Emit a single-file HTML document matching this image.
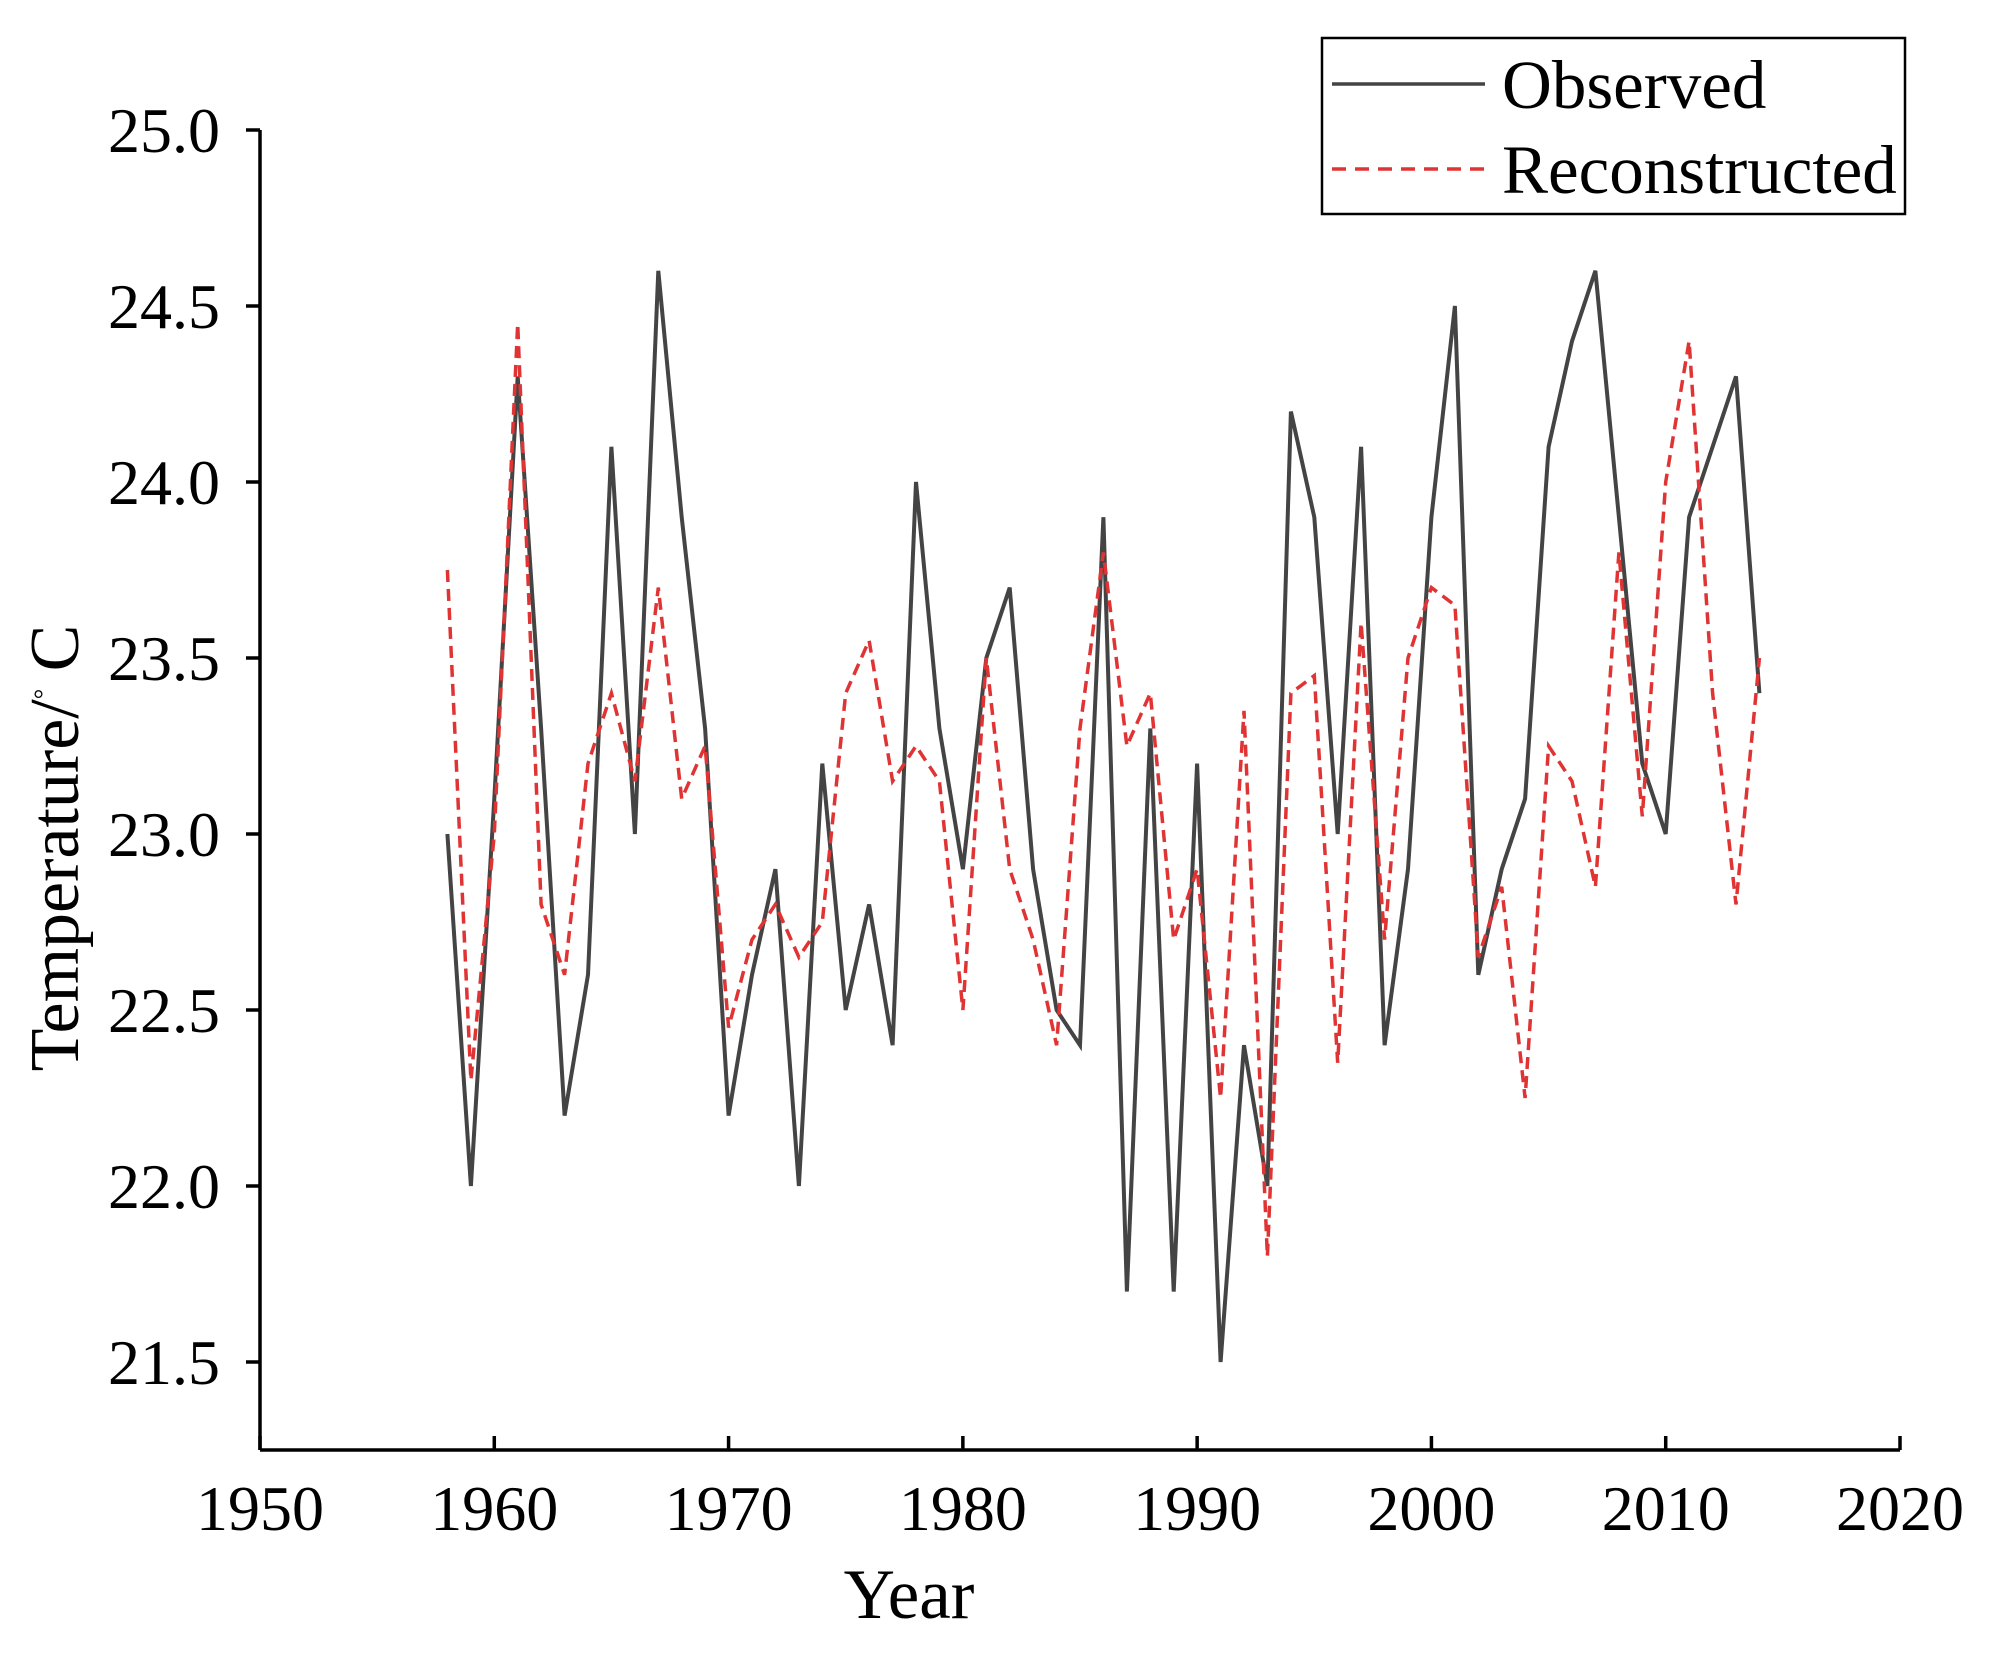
<!DOCTYPE html>
<html><head><meta charset="utf-8"><style>
html,body{margin:0;padding:0;background:#fff;}
svg{display:block;font-family:"Liberation Serif",serif;}
</style></head><body>
<svg id="chart" width="1999" height="1659" viewBox="0 0 1999 1659">
<g id="axes"></g>
<g id="series"></g>
<text x="909" y="1618" font-size="71" text-anchor="middle">Year</text>
<text transform="translate(78,848) rotate(-90)" font-size="70" text-anchor="middle">Temperature/<tspan font-size="26" dy="-26">°</tspan><tspan dy="26"> C</tspan></text>
<g>
<rect x="1322" y="38" width="583" height="176" fill="#fff" stroke="#000" stroke-width="2.5"/>
<line x1="1332" y1="84" x2="1485" y2="84" stroke="#444" stroke-width="3.5"/>
<text x="1502" y="108" font-size="69">Observed</text>
<line x1="1332" y1="169" x2="1485" y2="169" stroke="#e03434" stroke-width="3.5" stroke-dasharray="14,9"/>
<text x="1502" y="193" font-size="69">Reconstructed</text>
</g>
</svg>
<script>
const years = [];
for (let y = 1958; y <= 2014; y++) years.push(y);
const observed = [23.0,22.0,23.1,24.3,23.3,22.2,22.6,24.1,23.0,24.6,23.9,23.3,22.2,22.6,22.9,22.0,23.2,22.5,22.8,22.4,24.0,23.3,22.9,23.5,23.7,22.9,22.5,22.4,23.9,21.7,23.3,21.7,23.2,21.5,22.4,22.0,24.2,23.9,23.0,24.1,22.4,22.9,23.9,24.5,22.6,22.9,23.1,24.1,24.4,24.6,23.9,23.2,23.0,23.9,24.1,24.3,23.4];
const reconstructed = [23.75,22.3,23.0,24.45,22.8,22.6,23.2,23.4,23.15,23.7,23.1,23.25,22.45,22.7,22.8,22.65,22.75,23.4,23.55,23.15,23.25,23.15,22.5,23.5,22.9,22.7,22.4,23.3,23.8,23.25,23.4,22.7,22.9,22.25,23.35,21.8,23.4,23.45,22.35,23.6,22.7,23.5,23.7,23.65,22.65,22.85,22.25,23.25,23.15,22.85,23.8,23.05,24.0,24.4,23.4,22.8,23.5];
const xTicks = [1950,1960,1970,1980,1990,2000,2010,2020];
const yTicks = [21.5,22.0,22.5,23.0,23.5,24.0,24.5,25.0];

const NS = "http://www.w3.org/2000/svg";
const X0 = 260, X1 = 1900, Y25 = 130, Y215 = 1362, YB = 1450;
const xs = v => X0 + (v - 1950) / 70 * (X1 - X0);
const ys = v => Y215 + (v - 21.5) / 3.5 * (Y25 - Y215);
function mk(tag, attrs, parent) {
  const e = document.createElementNS(NS, tag);
  for (const k in attrs) e.setAttribute(k, attrs[k]);
  parent.appendChild(e); return e;
}
const axes = document.getElementById('axes');
const yAxis = mk('line', {x1:X0, y1:Y25, x2:X0, y2:YB, stroke:'#000', 'stroke-width':3.5}, axes);


const xAxis = mk('line', {x1:X0, y1:YB, x2:X1, y2:YB, stroke:'#000', 'stroke-width':3.5}, axes);


xTicks.forEach(t => {
  const x = xs(t);
  const tk = mk('line', {x1:x, y1:YB, x2:x, y2:YB-14, stroke:'#000', 'stroke-width':3.5}, axes);
  
  
  const lb = mk('text', {x:x, y:YB+80, 'font-size':64, 'text-anchor':'middle'}, axes);
  lb.textContent = t;
  
  
});
yTicks.forEach(t => {
  const y = ys(t);
  const tk = mk('line', {x1:X0-14, y1:y, x2:X0, y2:y, stroke:'#000', 'stroke-width':3.5}, axes);
  
  
  const lb = mk('text', {x:X0-40, y:y+22, 'font-size':64, 'text-anchor':'end'}, axes);
  lb.textContent = t.toFixed(1);
  
  
});
const series = document.getElementById('series');
const pObs = observed.map((v,i) => xs(years[i]).toFixed(1)+','+ys(v).toFixed(1)).join(' ');
const lo = mk('polyline', {points:pObs, fill:'none', stroke:'#444', 'stroke-width':4, 'stroke-linejoin':'miter'}, series);


const pRec = reconstructed.map((v,i) => xs(years[i]).toFixed(1)+','+ys(v).toFixed(1)).join(' ');
const lr = mk('polyline', {points:pRec, fill:'none', stroke:'#e03434', 'stroke-width':3.5, 'stroke-dasharray':'12,7'}, series);


</script>
</body></html>
